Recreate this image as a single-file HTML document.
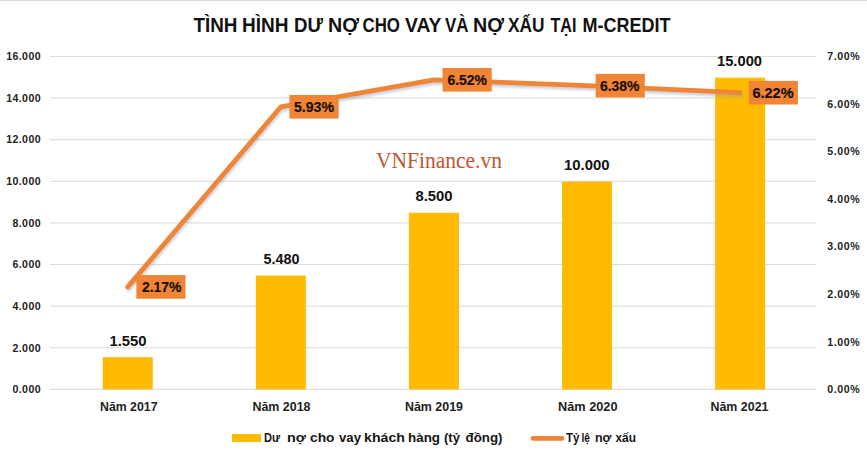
<!DOCTYPE html>
<html><head><meta charset="utf-8"><style>
html,body{margin:0;padding:0;background:#fff;width:867px;height:450px;overflow:hidden}
svg{display:block}
</style></head><body>
<svg width="867" height="450" viewBox="0 0 867 450">
<rect x="0" y="0" width="867" height="450" fill="#ffffff"/>
<rect x="0" y="0" width="867" height="1" fill="#d8d6d8"/>
<g font-family="Liberation Sans, sans-serif" font-weight="bold" font-size="20" fill="#111">
<text x="193.5" y="32" textLength="44" lengthAdjust="spacingAndGlyphs">TÌNH</text>
<text x="242" y="32" textLength="46.5" lengthAdjust="spacingAndGlyphs">HÌNH</text>
<text x="294" y="32" textLength="29" lengthAdjust="spacingAndGlyphs">DƯ</text>
<text x="328" y="32" textLength="31" lengthAdjust="spacingAndGlyphs">NỢ</text>
<text x="362.5" y="32" textLength="37.5" lengthAdjust="spacingAndGlyphs">CHO</text>
<text x="405" y="32" textLength="36.5" lengthAdjust="spacingAndGlyphs">VAY</text>
<text x="445" y="32" textLength="23.5" lengthAdjust="spacingAndGlyphs">VÀ</text>
<text x="473" y="32" textLength="31" lengthAdjust="spacingAndGlyphs">NỢ</text>
<text x="508" y="32" textLength="36.5" lengthAdjust="spacingAndGlyphs">XẤU</text>
<text x="550.5" y="32" textLength="26" lengthAdjust="spacingAndGlyphs">TẠI</text>
<text x="582.5" y="32" textLength="88" lengthAdjust="spacingAndGlyphs">M-CREDIT</text>
</g>
<rect x="50" y="55.90" width="766" height="1" fill="#DAD8DD"/>
<rect x="50" y="97.53" width="766" height="1" fill="#DAD8DD"/>
<rect x="50" y="139.15" width="766" height="1" fill="#DAD8DD"/>
<rect x="50" y="180.78" width="766" height="1" fill="#DAD8DD"/>
<rect x="50" y="222.40" width="766" height="1" fill="#DAD8DD"/>
<rect x="50" y="264.02" width="766" height="1" fill="#DAD8DD"/>
<rect x="50" y="305.65" width="766" height="1" fill="#DAD8DD"/>
<rect x="50" y="347.27" width="766" height="1" fill="#DAD8DD"/>
<rect x="50" y="388.90" width="766" height="1" fill="#DAD8DD"/>
<text x="41" y="60.20" font-family="Liberation Sans, sans-serif" font-weight="bold" font-size="10.6" letter-spacing="0.4" fill="#222" text-anchor="end">16.000</text>
<text x="41" y="101.83" font-family="Liberation Sans, sans-serif" font-weight="bold" font-size="10.6" letter-spacing="0.4" fill="#222" text-anchor="end">14.000</text>
<text x="41" y="143.45" font-family="Liberation Sans, sans-serif" font-weight="bold" font-size="10.6" letter-spacing="0.4" fill="#222" text-anchor="end">12.000</text>
<text x="41" y="185.08" font-family="Liberation Sans, sans-serif" font-weight="bold" font-size="10.6" letter-spacing="0.4" fill="#222" text-anchor="end">10.000</text>
<text x="41" y="226.70" font-family="Liberation Sans, sans-serif" font-weight="bold" font-size="10.6" letter-spacing="0.4" fill="#222" text-anchor="end">8.000</text>
<text x="41" y="268.32" font-family="Liberation Sans, sans-serif" font-weight="bold" font-size="10.6" letter-spacing="0.4" fill="#222" text-anchor="end">6.000</text>
<text x="41" y="309.95" font-family="Liberation Sans, sans-serif" font-weight="bold" font-size="10.6" letter-spacing="0.4" fill="#222" text-anchor="end">4.000</text>
<text x="41" y="351.57" font-family="Liberation Sans, sans-serif" font-weight="bold" font-size="10.6" letter-spacing="0.4" fill="#222" text-anchor="end">2.000</text>
<text x="41" y="393.20" font-family="Liberation Sans, sans-serif" font-weight="bold" font-size="10.6" letter-spacing="0.4" fill="#222" text-anchor="end">0.000</text>
<text x="827.2" y="60.20" font-family="Liberation Sans, sans-serif" font-weight="bold" font-size="10.6" letter-spacing="0.6" fill="#222">7.00%</text>
<text x="827.2" y="107.77" font-family="Liberation Sans, sans-serif" font-weight="bold" font-size="10.6" letter-spacing="0.6" fill="#222">6.00%</text>
<text x="827.2" y="155.34" font-family="Liberation Sans, sans-serif" font-weight="bold" font-size="10.6" letter-spacing="0.6" fill="#222">5.00%</text>
<text x="827.2" y="202.91" font-family="Liberation Sans, sans-serif" font-weight="bold" font-size="10.6" letter-spacing="0.6" fill="#222">4.00%</text>
<text x="827.2" y="250.49" font-family="Liberation Sans, sans-serif" font-weight="bold" font-size="10.6" letter-spacing="0.6" fill="#222">3.00%</text>
<text x="827.2" y="298.06" font-family="Liberation Sans, sans-serif" font-weight="bold" font-size="10.6" letter-spacing="0.6" fill="#222">2.00%</text>
<text x="827.2" y="345.63" font-family="Liberation Sans, sans-serif" font-weight="bold" font-size="10.6" letter-spacing="0.6" fill="#222">1.00%</text>
<text x="827.2" y="393.20" font-family="Liberation Sans, sans-serif" font-weight="bold" font-size="10.6" letter-spacing="0.6" fill="#222">0.00%</text>
<rect x="102.75" y="357.19" width="50" height="32.21" fill="#FFBB00"/>
<text x="109.5" y="345.6" font-family="Liberation Sans, sans-serif" font-weight="bold" font-size="15.2" fill="#111" textLength="37.0" lengthAdjust="spacingAndGlyphs">1.550</text>
<text x="100.0" y="410.6" font-family="Liberation Sans, sans-serif" font-weight="bold" font-size="12" fill="#1e1e1e" textLength="57.5" lengthAdjust="spacingAndGlyphs">Năm 2017</text>
<rect x="255.84" y="275.52" width="50" height="113.88" fill="#FFBB00"/>
<text x="263.5" y="264.3" font-family="Liberation Sans, sans-serif" font-weight="bold" font-size="15.2" fill="#111" textLength="36.0" lengthAdjust="spacingAndGlyphs">5.480</text>
<text x="252.5" y="410.6" font-family="Liberation Sans, sans-serif" font-weight="bold" font-size="12" fill="#1e1e1e" textLength="58.0" lengthAdjust="spacingAndGlyphs">Năm 2018</text>
<rect x="408.93" y="212.76" width="50" height="176.64" fill="#FFBB00"/>
<text x="415.5" y="201.4" font-family="Liberation Sans, sans-serif" font-weight="bold" font-size="15.2" fill="#111" textLength="37.0" lengthAdjust="spacingAndGlyphs">8.500</text>
<text x="405.0" y="410.6" font-family="Liberation Sans, sans-serif" font-weight="bold" font-size="12" fill="#1e1e1e" textLength="58.0" lengthAdjust="spacingAndGlyphs">Năm 2019</text>
<rect x="562.02" y="181.59" width="50" height="207.81" fill="#FFBB00"/>
<text x="564.0" y="170.2" font-family="Liberation Sans, sans-serif" font-weight="bold" font-size="15.2" fill="#111" textLength="45.5" lengthAdjust="spacingAndGlyphs">10.000</text>
<text x="558.0" y="410.6" font-family="Liberation Sans, sans-serif" font-weight="bold" font-size="12" fill="#1e1e1e" textLength="59.5" lengthAdjust="spacingAndGlyphs">Năm 2020</text>
<rect x="715.11" y="77.68" width="50" height="311.72" fill="#FFBB00"/>
<text x="717.0" y="66.0" font-family="Liberation Sans, sans-serif" font-weight="bold" font-size="15.2" fill="#111" textLength="45.0" lengthAdjust="spacingAndGlyphs">15.000</text>
<text x="710.5" y="410.6" font-family="Liberation Sans, sans-serif" font-weight="bold" font-size="12" fill="#1e1e1e" textLength="58.0" lengthAdjust="spacingAndGlyphs">Năm 2021</text>
<text x="376" y="167.8" font-family="Liberation Serif, serif" font-size="23" fill="#BE5730" textLength="126" lengthAdjust="spacingAndGlyphs">VNFinance.vn</text>
<defs><filter id="sh" x="-5%" y="-5%" width="110%" height="120%"><feDropShadow dx="0.8" dy="2.4" stdDeviation="1.1" flood-color="#8a9ab0" flood-opacity="0.45"/></filter></defs>
<path d="M127.75,286.90 L280.84,106.80 L433.93,79.80 L587.02,85.65 L740.11,92.70" fill="none" stroke="#EF8535" stroke-width="4.8" stroke-linejoin="round" stroke-linecap="round" filter="url(#sh)"/>
<rect x="136.35" y="275.10" width="49.2" height="23.6" fill="#EF8535"/>
<text x="142.0" y="291.9" font-family="Liberation Sans, sans-serif" font-weight="bold" font-size="14.3" fill="#1a0f08" stroke="#1a0f08" stroke-width="0.2" textLength="39.5" lengthAdjust="spacingAndGlyphs">2.17%</text>
<rect x="289.44" y="95.00" width="49.2" height="23.6" fill="#EF8535"/>
<text x="294.0" y="112" font-family="Liberation Sans, sans-serif" font-weight="bold" font-size="14.3" fill="#1a0f08" stroke="#1a0f08" stroke-width="0.2" textLength="40.0" lengthAdjust="spacingAndGlyphs">5.93%</text>
<rect x="442.53" y="68.00" width="49.2" height="23.6" fill="#EF8535"/>
<text x="447.5" y="85" font-family="Liberation Sans, sans-serif" font-weight="bold" font-size="14.3" fill="#1a0f08" stroke="#1a0f08" stroke-width="0.2" textLength="39.5" lengthAdjust="spacingAndGlyphs">6.52%</text>
<rect x="595.62" y="73.85" width="49.2" height="23.6" fill="#EF8535"/>
<text x="600.0" y="90.8" font-family="Liberation Sans, sans-serif" font-weight="bold" font-size="14.3" fill="#1a0f08" stroke="#1a0f08" stroke-width="0.2" textLength="39.5" lengthAdjust="spacingAndGlyphs">6.38%</text>
<rect x="748.71" y="80.90" width="49.2" height="23.6" fill="#EF8535"/>
<text x="752.5" y="97.9" font-family="Liberation Sans, sans-serif" font-weight="bold" font-size="14.3" fill="#1a0f08" stroke="#1a0f08" stroke-width="0.2" textLength="41.0" lengthAdjust="spacingAndGlyphs">6.22%</text>
<rect x="232" y="434" width="29" height="8" fill="#FFBB00"/>
<g font-family="Liberation Sans, sans-serif" font-weight="bold" font-size="12.6" fill="#151515">
<text x="264.0" y="441.6" textLength="16.0" lengthAdjust="spacingAndGlyphs">Dư</text>
<text x="287.0" y="441.6" textLength="19.0" lengthAdjust="spacingAndGlyphs">nợ</text>
<text x="310.0" y="441.6" textLength="24.5" lengthAdjust="spacingAndGlyphs">cho</text>
<text x="339.0" y="441.6" textLength="22.0" lengthAdjust="spacingAndGlyphs">vay</text>
<text x="364.0" y="441.6" textLength="41.0" lengthAdjust="spacingAndGlyphs">khách</text>
<text x="408.0" y="441.6" textLength="32.0" lengthAdjust="spacingAndGlyphs">hàng</text>
<text x="444.0" y="441.6" textLength="16.0" lengthAdjust="spacingAndGlyphs">(tỷ</text>
<text x="465.5" y="441.6" textLength="37.0" lengthAdjust="spacingAndGlyphs">đồng)</text>
<text x="566.0" y="441.6" textLength="13.5" lengthAdjust="spacingAndGlyphs">Tỷ</text>
<text x="581.5" y="441.6" textLength="8.5" lengthAdjust="spacingAndGlyphs">lệ</text>
<text x="595.0" y="441.6" textLength="16.5" lengthAdjust="spacingAndGlyphs">nợ</text>
<text x="615.5" y="441.6" textLength="20.5" lengthAdjust="spacingAndGlyphs">xấu</text>
</g>
<line x1="533" y1="438.4" x2="562" y2="438.4" stroke="#EF8535" stroke-width="4.8" stroke-linecap="round"/>
</svg>
</body></html>
